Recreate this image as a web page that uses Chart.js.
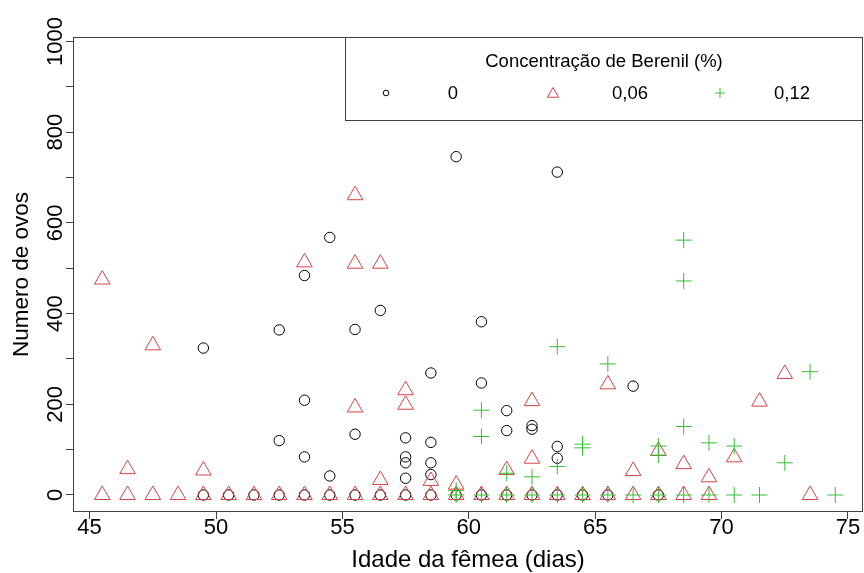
<!DOCTYPE html>
<html><head><meta charset="utf-8">
<script src="https://cdn.jsdelivr.net/npm/chart.js@4/dist/chart.umd.min.js"></script>
<style>html,body{margin:0;padding:0;background:#fff}canvas{display:block}</style>
</head><body>
<canvas id="c" width="864" height="573"></canvas>
<script>
// ---- data ----
const xTicks = [45, 50, 55, 60, 65, 70, 75];
const yTicks = [0, 100, 200, 300, 400, 500, 600, 700, 800, 900, 1000];
const yLabels = [0, 200, 400, 600, 800, 1000];
const seriesNames = ['0', '0,06', '0,12'];
const legendTitle = 'Concentração de Berenil (%)';
const xTitle = 'Idade da fêmea (dias)';
const yTitle = 'Numero de ovos';

const c0X = [49.5,49.5,50.5,51.5,52.5,52.5,52.5,53.5,53.5,53.5,53.5,54.5,54.5,54.5,55.5,55.5,55.5,56.5,56.5,57.5,57.5,57.5,57.5,57.5,58.5,58.5,58.5,58.5,58.5,59.5,59.5,60.5,60.5,60.5,61.5,61.5,61.5,62.5,62.5,62.5,63.5,63.5,63.5,63.5,64.5,65.5,66.5,67.5];
const c0Y = [324,0,0,0,364,120,0,484,209,84,0,568,42,0,365,134,0,407,0,126,84,71,37,0,269,116,71,45,0,746,0,382,247,0,186,142,0,153,145,0,712,107,81,0,0,0,240,0];

const c6X = [45.5,45.5,46.5,46.5,47.5,47.5,48.5,49.5,49.5,50.5,51.5,52.5,53.5,53.5,54.5,55.5,55.5,55.5,55.5,56.5,56.5,56.5,57.5,57.5,57.5,58.5,58.5,59.5,59.5,60.5,61.5,61.5,62.5,62.5,62.5,63.5,64.5,65.5,65.5,66.5,66.5,67.5,67.5,68.5,68.5,69.5,69.5,70.5,71.5,72.5,73.5];
const c6Y = [475,0,57,0,330,0,0,54,0,0,0,0,513,0,0,661,510,193,0,510,33,0,231,199,0,31,0,23,0,0,55,0,207,80,0,0,0,244,0,53,0,97,0,68,0,39,0,83,206,267,0];

const c12X = [59.5,59.5,60.5,60.5,60.5,61.5,61.5,62.5,62.5,63.5,63.5,63.5,64.5,64.5,64.5,65.5,65.5,66.5,67.5,67.5,67.5,68.5,68.5,68.5,68.5,69.5,69.5,70.5,70.5,71.5,72.5,73.5,74.5];
const c12Y = [10,0,187,129,0,48,0,40,0,327,63,0,112,104,0,289,0,0,108,88,0,562,472,151,0,115,0,108,0,0,71,272,0];

// ---- styles ----
const FONT = "'Liberation Sans', Arial, sans-serif";
const COLORS = ['#000000', '#d44444', '#34bf34'];
const AXIS_COLOR = '#404040';

const pts = (xs, ys) => xs.map((x, i) => ({x, y: ys[i]}));

const deco = {
  id: 'deco',
  afterDraw(chart) {
    const ctx = chart.ctx, a = chart.chartArea;
    const xs = chart.scales.x, ys = chart.scales.y;
    ctx.save();
    // box
    ctx.strokeStyle = AXIS_COLOR; ctx.lineWidth = 1;
    ctx.strokeRect(a.left + 0.5, a.top + 0.5, a.right - a.left - 1, a.bottom - a.top - 1);
    ctx.fillStyle = '#000';
    ctx.font = '22px ' + FONT;
    // x tick labels
    ctx.textAlign = 'center'; ctx.textBaseline = 'middle';
    xTicks.forEach(v => ctx.fillText(String(v), xs.getPixelForValue(v), 528));
    // y tick labels (rotated)
    ctx.textBaseline = 'alphabetic';
    yLabels.forEach(v => {
      const py = ys.getPixelForValue(v);
      ctx.save(); ctx.translate(62, py); ctx.rotate(-Math.PI / 2);
      ctx.fillText(String(v), 0, 0); ctx.restore();
    });
    // axis titles
    ctx.textBaseline = 'middle';
    ctx.font = '24px ' + FONT;
    ctx.fillText(xTitle, (a.left + a.right) / 2, 560);
    ctx.font = '22.5px ' + FONT;
    ctx.save(); ctx.translate(22, (a.top + a.bottom) / 2); ctx.rotate(-Math.PI / 2);
    ctx.fillText(yTitle, 0, 0); ctx.restore();
    // legend box
    const L = 345, R = a.right, T = a.top, B = 120;
    ctx.strokeStyle = AXIS_COLOR;
    ctx.strokeRect(L + 0.5, T + 0.5, R - L - 1, B - T);
    ctx.font = '18.5px ' + FONT;
    ctx.fillStyle = '#000';
    ctx.fillText(legendTitle, (L + R) / 2, 62);
    const my = 94;
    const mx = [386, 553, 720], tx = [453, 630, 792];
    seriesNames.forEach((n, i) => {
      ctx.fillStyle = '#000';
      ctx.fillText(n, tx[i], my);
      ctx.strokeStyle = COLORS[i]; ctx.lineWidth = 1;
      ctx.beginPath();
      if (i === 0) { ctx.arc(mx[i], my - 1, 2.8, 0, Math.PI * 2); }
      else if (i === 1) {
        const r = 6.5;
        ctx.moveTo(mx[i], my - r);
        ctx.lineTo(mx[i] + r * Math.sin(2 * Math.PI / 3), my - r * Math.cos(2 * Math.PI / 3));
        ctx.lineTo(mx[i] + r * Math.sin(4 * Math.PI / 3), my - r * Math.cos(4 * Math.PI / 3));
        ctx.closePath();
      } else {
        const r = 5;
        ctx.moveTo(mx[i] - r, my - 1); ctx.lineTo(mx[i] + r, my - 1);
        ctx.moveTo(mx[i], my - 1 - r); ctx.lineTo(mx[i], my - 1 + r);
      }
      ctx.stroke();
    });
    ctx.restore();
  }
};

new Chart(document.getElementById('c'), {
  type: 'scatter',
  data: {
    datasets: [
      { label: seriesNames[0], data: pts(c0X, c0Y), pointStyle: 'circle', pointRadius: 5.2,
        borderColor: COLORS[0], backgroundColor: 'rgba(0,0,0,0)', borderWidth: 1, order: 2 },
      { label: seriesNames[1], data: pts(c6X, c6Y), pointStyle: 'triangle', pointRadius: 9,
        borderColor: COLORS[1], backgroundColor: 'rgba(0,0,0,0)', borderWidth: 1, order: 1 },
      { label: seriesNames[2], data: pts(c12X, c12Y), pointStyle: 'cross', pointRadius: 8,
        borderColor: COLORS[2], backgroundColor: 'rgba(0,0,0,0)', borderWidth: 1, order: 0 }
    ]
  },
  options: {
    responsive: false, animation: false, devicePixelRatio: 1,
    layout: { autoPadding: false, padding: { top: 37, right: 1, left: 0, bottom: 0 } },
    plugins: { legend: { display: false }, tooltip: { enabled: false } },
    elements: { point: { hoverRadius: 0 } },
    scales: {
      x: {
        type: 'linear', position: 'bottom', min: 44.343, max: 75.594,
        afterBuildTicks: s => { s.ticks = xTicks.map(v => ({ value: v })); },
        afterFit: s => { s.height = 61; },
        grid: { display: true, drawOnChartArea: false, drawTicks: true, tickLength: 7, color: AXIS_COLOR },
        border: { display: false },
        ticks: { callback: () => '', maxRotation: 0, autoSkip: false }
      },
      y: {
        type: 'linear', position: 'left', min: -37.5, max: 1009.9,
        afterBuildTicks: s => { s.ticks = yTicks.map(v => ({ value: v })); },
        afterFit: s => { s.width = 73; },
        grid: { display: true, drawOnChartArea: false, drawTicks: true, tickLength: 7, color: AXIS_COLOR },
        border: { display: false },
        ticks: { callback: () => '', autoSkip: false }
      }
    }
  },
  plugins: [deco]
});
</script>
</body></html>
